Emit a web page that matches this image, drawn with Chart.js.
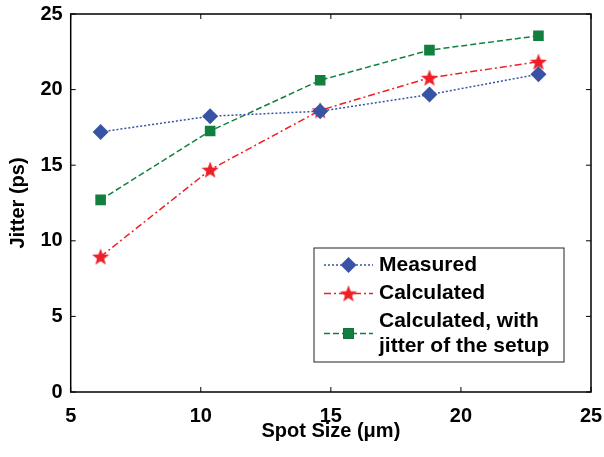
<!DOCTYPE html>
<html>
<head>
<meta charset="utf-8">
<script src="https://cdn.jsdelivr.net/npm/chart.js@4"></script>
<style>
  html, body { margin: 0; padding: 0; background: #fff; }
</style>
</head>
<body>
<canvas id="chart" width="604" height="457"></canvas>
<script>
// data
const spotSize = [6.15, 10.36, 14.59, 18.79, 22.98];
const measured = [17.2, 18.24, 18.57, 19.67, 21.02];
const calculated = [8.95, 14.7, 18.63, 20.78, 21.84];
const calcWithSetup = [12.71, 17.26, 20.62, 22.61, 23.56];
const xTicks = [5, 10, 15, 20, 25];
const yTicks = [0, 5, 10, 15, 20, 25];
const legendLabels = [['Measured'], ['Calculated'], ['Calculated, with', 'jitter of the setup']];

const FONT = '"Liberation Sans", Arial, sans-serif';
const BLUE = '#3953a4';
const RED = '#ee2027';
const GREEN = '#11803f';

// filled five-point star for the "Calculated" markers
function makeStar(size, color) {
  const c = document.createElement('canvas');
  c.width = size; c.height = size;
  const g = c.getContext('2d');
  const cx = size / 2, cy = size / 2 + 0.8, R = size / 2, r = R * 0.42;
  g.beginPath();
  for (let i = 0; i < 10; i++) {
    const rad = (i % 2 === 0) ? R : r;
    const a = -Math.PI / 2 + i * Math.PI / 5;
    g.lineTo(cx + rad * Math.cos(a), cy + rad * Math.sin(a));
  }
  g.closePath();
  g.fillStyle = color;
  g.fill();
  return c;
}
const star = makeStar(18, RED);

const toPoints = (ys) => spotSize.map((x, i) => ({ x: x, y: ys[i] }));

// MATLAB-style box with inward ticks
const frameTicks = {
  id: 'frameTicks',
  afterDraw(chart) {
    const { ctx, chartArea: a, scales } = chart;
    ctx.save();
    ctx.strokeStyle = '#000';
    ctx.lineWidth = 1.5;
    ctx.strokeRect(a.left, a.top, a.right - a.left, a.bottom - a.top);
    ctx.lineWidth = 1;
    const len = 5;
    ctx.beginPath();
    xTicks.forEach(v => {
      const px = scales.x.getPixelForValue(v);
      ctx.moveTo(px, a.bottom); ctx.lineTo(px, a.bottom - len);
      ctx.moveTo(px, a.top); ctx.lineTo(px, a.top + len);
    });
    yTicks.forEach(v => {
      const py = scales.y.getPixelForValue(v);
      ctx.moveTo(a.left, py); ctx.lineTo(a.left + len, py);
      ctx.moveTo(a.right, py); ctx.lineTo(a.right - len, py);
    });
    ctx.stroke();
    ctx.restore();
  }
};

// legend box drawn inside the plot, lower right
const boxLegend = {
  id: 'boxLegend',
  afterDraw(chart) {
    const ctx = chart.ctx;
    const box = { left: 314, top: 248, right: 564, bottom: 362 };
    const rows = [265, 293.5, 333.5];
    const lineGap = 24.5;
    ctx.save();
    ctx.fillStyle = '#fff';
    ctx.fillRect(box.left, box.top, box.right - box.left, box.bottom - box.top);
    ctx.strokeStyle = '#222';
    ctx.lineWidth = 1;
    ctx.strokeRect(box.left, box.top, box.right - box.left, box.bottom - box.top);
    chart.data.datasets.forEach((ds, i) => {
      const y = rows[i];
      ctx.save();
      ctx.strokeStyle = ds.borderColor;
      ctx.lineWidth = ds.borderWidth;
      ctx.setLineDash(ds.borderDash);
      ctx.beginPath();
      ctx.moveTo(324, y); ctx.lineTo(373, y);
      ctx.stroke();
      ctx.restore();
      Chart.helpers.drawPoint(ctx, {
        pointStyle: ds.pointStyle, radius: ds.pointRadius, rotation: 0, borderWidth: 0
      }, 348.5, y);
      if (ds.pointStyle !== star) {
        ctx.fillStyle = ds.backgroundColor;
        ctx.fill();
      }
      ctx.fillStyle = '#000';
      ctx.font = 'bold 21px ' + FONT;
      ctx.textBaseline = 'middle';
      const lines = legendLabels[i];
      const y0 = y - (lines.length - 1) * lineGap / 2;
      lines.forEach((t, k) => ctx.fillText(t, 379, y0 + k * lineGap));
    });
    ctx.restore();
  }
};

new Chart(document.getElementById('chart'), {
  type: 'line',
  data: {
    datasets: [
      {
        label: 'Measured',
        data: toPoints(measured),
        borderColor: BLUE,
        backgroundColor: BLUE,
        borderWidth: 1.5,
        borderDash: [2, 2],
        pointStyle: 'rectRot',
        pointRadius: 8,
        pointBorderWidth: 0,
      },
      {
        label: 'Calculated',
        data: toPoints(calculated),
        borderColor: RED,
        backgroundColor: RED,
        borderWidth: 1.5,
        borderDash: [7, 3, 2, 3],
        pointStyle: star,
        pointRadius: 9,
        pointBorderWidth: 0,
      },
      {
        label: 'Calculated, with jitter of the setup',
        data: toPoints(calcWithSetup),
        borderColor: GREEN,
        backgroundColor: GREEN,
        borderWidth: 1.5,
        borderDash: [6, 3],
        pointStyle: 'rect',
        pointRadius: 7.5,
        pointBorderWidth: 0,
      },
    ],
  },
  options: {
    responsive: false,
    animation: false,
    devicePixelRatio: 1,
    layout: { padding: { left: 0, right: 13, top: 14, bottom: 0 } },
    plugins: { legend: { display: false }, tooltip: { enabled: false } },
    scales: {
      x: {
        type: 'linear',
        min: 5,
        max: 25,
        afterBuildTicks: (s) => { s.ticks = xTicks.map(v => ({ value: v })); },
        afterFit: (s) => { s.height = 65; s.paddingLeft = 0; s.paddingRight = 0; },
        grid: { display: false, drawTicks: false },
        border: { display: false },
        ticks: { color: '#000', padding: 12, font: { family: FONT, size: 20, weight: 'bold' } },
        title: {
          display: true,
          text: 'Spot Size (\u03bcm)',
          color: '#000',
          padding: { top: 0, bottom: 14 },
          font: { family: FONT, size: 20, weight: 'bold' },
        },
      },
      y: {
        min: 0,
        max: 25,
        afterBuildTicks: (s) => { s.ticks = yTicks.map(v => ({ value: v })); },
        afterFit: (s) => { s.width = 70.7; s.paddingTop = 0; s.paddingBottom = 0; },
        grid: { display: false, drawTicks: false },
        border: { display: false },
        ticks: { color: '#000', padding: 8, font: { family: FONT, size: 20, weight: 'bold' } },
        title: {
          display: true,
          text: 'Jitter (ps)',
          color: '#000',
          padding: { top: 6, bottom: 0 },
          font: { family: FONT, size: 20, weight: 'bold' },
        },
      },
    },
  },
  plugins: [frameTicks, boxLegend],
});
</script>
</body>
</html>
